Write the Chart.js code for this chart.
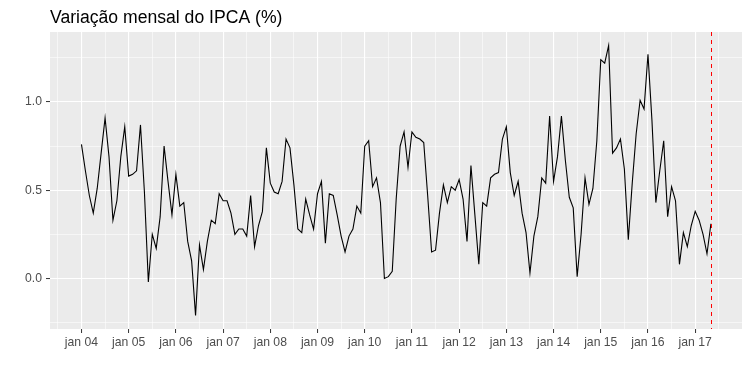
<!DOCTYPE html>
<html>
<head>
<meta charset="utf-8">
<script src="https://cdn.jsdelivr.net/npm/chart.js@4/dist/chart.umd.min.js"></script>
<style>
  html, body { margin: 0; padding: 0; background: #ffffff; }
  #wrap { width: 750px; height: 372px; }
</style>
</head>
<body>
<div id="wrap"><canvas id="c" width="750" height="372"></canvas></div>
<script>
// ---- Data (monthly IPCA % change, Jan 2004 .. May 2017) ----
const chartTitle = "Variação mensal do IPCA (%)";
const ipca2004 = [0.76, 0.61, 0.47, 0.37, 0.51, 0.71, 0.91, 0.69, 0.33, 0.44, 0.69, 0.86];
const ipca2005 = [0.58, 0.59, 0.61, 0.87, 0.49, -0.02, 0.25, 0.17, 0.35, 0.75, 0.55, 0.36];
const ipca2006 = [0.59, 0.41, 0.43, 0.21, 0.10, -0.21, 0.19, 0.05, 0.21, 0.33, 0.31, 0.48];
const ipca2007 = [0.44, 0.44, 0.37, 0.25, 0.28, 0.28, 0.24, 0.47, 0.18, 0.30, 0.38, 0.74];
const ipca2008 = [0.54, 0.49, 0.48, 0.55, 0.79, 0.74, 0.53, 0.28, 0.26, 0.45, 0.36, 0.28];
const ipca2009 = [0.48, 0.55, 0.20, 0.48, 0.47, 0.36, 0.24, 0.15, 0.24, 0.28, 0.41, 0.37];
const ipca2010 = [0.75, 0.78, 0.52, 0.57, 0.43, 0.00, 0.01, 0.04, 0.45, 0.75, 0.83, 0.63];
const ipca2011 = [0.83, 0.80, 0.79, 0.77, 0.47, 0.15, 0.16, 0.37, 0.53, 0.43, 0.52, 0.50];
const ipca2012 = [0.56, 0.45, 0.21, 0.64, 0.36, 0.08, 0.43, 0.41, 0.57, 0.59, 0.60, 0.79];
const ipca2013 = [0.86, 0.60, 0.47, 0.55, 0.37, 0.26, 0.03, 0.24, 0.35, 0.57, 0.54, 0.92];
const ipca2014 = [0.55, 0.69, 0.92, 0.67, 0.46, 0.40, 0.01, 0.25, 0.57, 0.42, 0.51, 0.78];
const ipca2015 = [1.24, 1.22, 1.32, 0.71, 0.74, 0.79, 0.62, 0.22, 0.54, 0.82, 1.01, 0.96];
const ipca2016 = [1.27, 0.90, 0.43, 0.61, 0.78, 0.35, 0.52, 0.44, 0.08, 0.26, 0.18, 0.30];
const ipca2017 = [0.38, 0.33, 0.25, 0.14, 0.31];

const xTickLabels = ["jan 04", "jan 05", "jan 06", "jan 07", "jan 08", "jan 09", "jan 10",
                     "jan 11", "jan 12", "jan 13", "jan 14", "jan 15", "jan 16", "jan 17"];
const yTickLabels = ["0.0", "0.5", "1.0"];
const yTickValues = [0.0, 0.5, 1.0];

// ---- Build series (x = months since Jan 2004) ----
const ipca = [].concat(ipca2004, ipca2005, ipca2006, ipca2007, ipca2008, ipca2009, ipca2010,
                       ipca2011, ipca2012, ipca2013, ipca2014, ipca2015, ipca2016, ipca2017);
const points = ipca.map((v, i) => ({ x: i, y: v }));
const markerMonth = ipca.length - 1;  // dashed reference line at the last observation

// ggplot-like 5% expansion
const n = ipca.length - 1;
const xMin = -0.05 * n, xMax = n + 0.05 * n - 0.1;
const yLo = Math.min(...ipca), yHi = Math.max(...ipca);
const yMin = yLo - 0.05 * (yHi - yLo), yMax = yHi + 0.05 * (yHi - yLo);

const isMajorX = v => Math.abs(v % 12) < 1e-6;
const isMajorY = v => Math.abs(v / 0.5 - Math.round(v / 0.5)) < 1e-6;

const panelBg = {
  id: 'panelBg',
  beforeDraw(chart) {
    const { ctx, chartArea: a } = chart;
    ctx.save();
    ctx.fillStyle = '#EBEBEB';
    ctx.fillRect(a.left, a.top, a.right - a.left, a.bottom - a.top);
    ctx.restore();
  }
};

const titlePlugin = {
  id: 'ggTitle',
  afterDraw(chart) {
    const { ctx } = chart;
    ctx.save();
    ctx.font = '17.6px "Liberation Sans", Arial, sans-serif';
    ctx.fillStyle = '#000000';
    ctx.textAlign = 'left';
    ctx.textBaseline = 'alphabetic';
    ctx.fillText(chartTitle, chart.chartArea.left, 22.7);
    ctx.restore();
  }
};

const vLine = {
  id: 'vLine',
  afterDatasetsDraw(chart) {
    const { ctx, chartArea: a, scales } = chart;
    const px = Math.round(scales.x.getPixelForValue(markerMonth)) + 0.5;
    ctx.save();
    ctx.strokeStyle = '#FF0000';
    ctx.lineWidth = 1;
    ctx.setLineDash([4, 4]);
    ctx.beginPath();
    ctx.moveTo(px, a.top);
    ctx.lineTo(px, a.bottom);
    ctx.stroke();
    ctx.restore();
  }
};

new Chart(document.getElementById('c'), {
  type: 'line',
  data: {
    datasets: [{
      data: points,
      borderColor: '#000000',
      borderWidth: 1.1,
      pointRadius: 0,
      tension: 0,
      fill: false
    }]
  },
  options: {
    responsive: false,
    animation: false,
    events: [],
    layout: { padding: { top: 32, right: 8, left: 0, bottom: 0 } },
    plugins: { legend: { display: false }, title: { display: false }, tooltip: { enabled: false } },
    scales: {
      x: {
        type: 'linear',
        min: xMin,
        max: xMax,
        afterFit(scale) { scale.height = 43; },
        border: { display: false },
        grid: {
          color: '#FFFFFF',
          lineWidth: ctx => (ctx.tick && isMajorX(ctx.tick.value)) ? 1.1 : 0.55,
          tickColor: ctx => (ctx.tick && isMajorX(ctx.tick.value)) ? '#333333' : 'rgba(0,0,0,0)',
          tickLength: 4,
          tickWidth: 1
        },
        ticks: {
          stepSize: 6,
          includeBounds: false,
          autoSkip: false,
          maxRotation: 0,
          minRotation: 0,
          padding: 2,
          color: '#4D4D4D',
          font: { family: '"Liberation Sans", Arial, sans-serif', size: 12.2 },
          callback: v => isMajorX(v) ? (xTickLabels[Math.round(v / 12)] || '') : ''
        }
      },
      y: {
        type: 'linear',
        min: yMin,
        max: yMax,
        afterFit(scale) { scale.width = 50; },
        border: { display: false },
        grid: {
          color: '#FFFFFF',
          lineWidth: ctx => (ctx.tick && isMajorY(ctx.tick.value)) ? 1.1 : 0.55,
          tickColor: ctx => (ctx.tick && isMajorY(ctx.tick.value)) ? '#333333' : 'rgba(0,0,0,0)',
          tickLength: 4,
          tickWidth: 1
        },
        ticks: {
          stepSize: 0.25,
          includeBounds: false,
          autoSkip: false,
          padding: 4,
          color: '#4D4D4D',
          font: { family: '"Liberation Sans", Arial, sans-serif', size: 12.2 },
          callback: v => {
            if (!isMajorY(v)) return '';
            const k = yTickValues.findIndex(t => Math.abs(t - v) < 1e-6);
            return k >= 0 ? yTickLabels[k] : '';
          }
        }
      }
    }
  },
  plugins: [panelBg, titlePlugin, vLine]
});
</script>
</body>
</html>
